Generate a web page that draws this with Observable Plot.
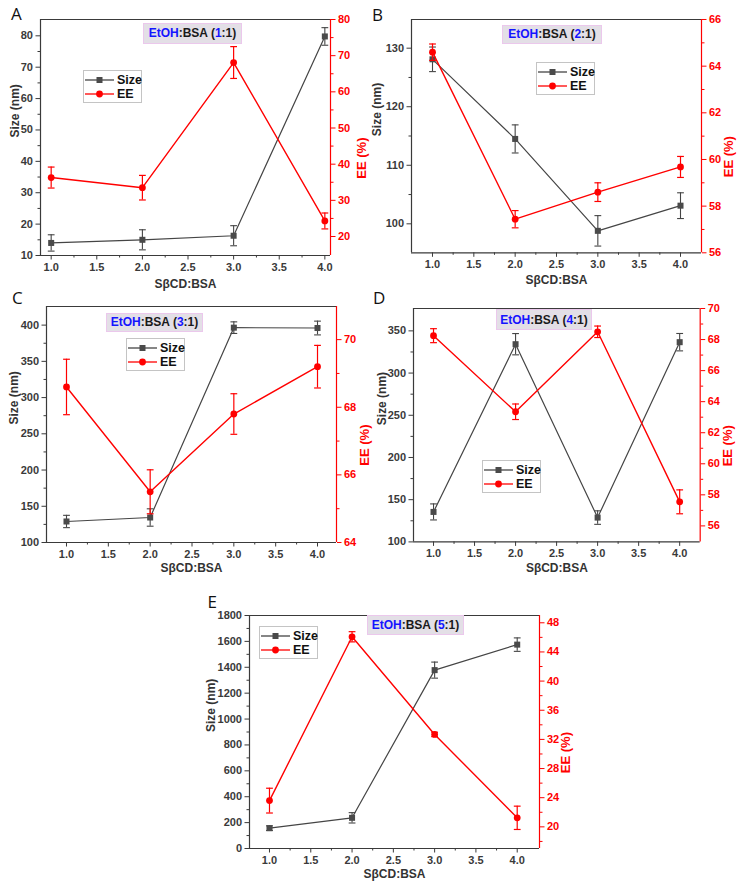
<!DOCTYPE html>
<html>
<head>
<meta charset="utf-8">
<script src="https://cdn.jsdelivr.net/npm/d3@7"></script>
<script src="https://cdn.jsdelivr.net/npm/@observablehq/plot@0.6"></script>
<style>
  html, body { margin: 0; padding: 0; background: #fff; }
  #fig { position: relative; width: 740px; height: 891px; overflow: hidden; background: #fff;
         font-family: "Liberation Sans", Arial, sans-serif; }
  .letter { position: absolute; font-family: "Open Sans", sans-serif; font-size: 17px; line-height: 17px; color: #111; }
  .tag { position: absolute; box-sizing: border-box; background: #e3dfe6; border: 1px solid #ebc8ec;
         font-weight: bold; font-size: 12px; color: #1a1a1a; display: flex; align-items: center;
         justify-content: center; white-space: nowrap; }
  .tag .b { color: #1414ff; }
  .key { position: absolute; box-sizing: border-box; width: 59px; height: 33px; background: #fff;
         border: 1px solid #c4c4c4; padding: 2px 0 0 1px; }
  .key .row { display: flex; align-items: center; height: 14px; font-weight: bold; font-size: 12.5px; color: #111; }
  .key .row svg { display: block; margin-right: 3px; flex: none; }
</style>
</head>
<body>
<div id="fig"></div>
<script>
// SβCD:BSA molar ratio on the x axis
const ratio = [1, 2, 3, 4];
const xTicks = [1.0, 1.5, 2.0, 2.5, 3.0, 3.5, 4.0];
// EtOH:BSA ratio of each panel
const etohRatio = [1, 2, 3, 4, 5];

// A — EtOH:BSA (1:1)
const sizeA = [14.0, 15.0, 16.3, 79.8];
const sizeErrA = [2.6, 3.2, 3.2, 2.8];
const eeA = [36.3, 33.5, 68.1, 24.3];
const eeErrA = [2.9, 3.4, 4.4, 2.2];
const sizeTicksA = [10, 20, 30, 40, 50, 60, 70, 80];
const eeTicksA = [20, 30, 40, 50, 60, 70, 80];

// B — EtOH:BSA (2:1)
const sizeB = [128.1, 114.5, 98.8, 103.1];
const sizeErrB = [2.1, 2.4, 2.6, 2.2];
const eeB = [64.6, 57.44, 58.6, 59.68];
const eeErrB = [0.35, 0.37, 0.4, 0.45];
const sizeTicksB = [100, 110, 120, 130];
const eeTicksB = [56, 58, 60, 62, 64, 66];

// C — EtOH:BSA (3:1)
const sizeC = [129, 134.5, 396.5, 396];
const sizeErrC = [8.5, 12, 8, 9.5];
const eeC = [68.6, 65.5, 67.8, 69.2];
const eeErrC = [0.82, 0.65, 0.6, 0.63];
const sizeTicksC = [100, 150, 200, 250, 300, 350, 400];
const eeTicksC = [64, 66, 68, 70];

// D — EtOH:BSA (4:1)
const sizeD = [135.5, 334.2, 128.8, 336.6];
const sizeErrD = [9.5, 12.6, 8, 10.3];
const eeD = [68.25, 63.35, 68.5, 57.55];
const eeErrD = [0.45, 0.5, 0.37, 0.77];
const sizeTicksD = [100, 150, 200, 250, 300, 350];
const eeTicksD = [56, 58, 60, 62, 64, 66, 68, 70];

// E — EtOH:BSA (5:1)
const sizeE = [157, 237, 1378, 1575];
const sizeErrE = [18, 40, 62, 52];
const eeE = [23.6, 46.08, 32.68, 21.24];
const eeErrE = [1.7, 0.7, 0.3, 1.6];
const sizeTicksE = [0, 200, 400, 600, 800, 1000, 1200, 1400, 1600, 1800];
const eeTicksE = [20, 24, 28, 32, 36, 40, 44, 48];

const AXIS = "#3a3a3a";
const GREY = "#454545";
const RED = "#ff0000";
const FONT = "'Liberation Sans', Arial, sans-serif";
const plain = d => String(d);

// layout of each panel: plot frame [left, top, right, bottom], scale domains and boxes
const panels = [
  {letter: "A", etoh: etohRatio[0], frame: [40, 19, 330, 255], xDomain: [0.883, 4.062],
   size: sizeA, sizeErr: sizeErrA, sizeDomain: [10, 85.2], sizeTicks: sizeTicksA,
   ee: eeA, eeErr: eeErrA, eeDomain: [14.75, 80], eeTicks: eeTicksA,
   tag: [143, 23, 99, 20.5], key: [83, 70], letterPos: [11, 5.3], leftGap: 25, rightGap: 31, bottomGap: 32},
  {letter: "B", etoh: etohRatio[1], frame: [411, 19, 701, 252.3], xDomain: [0.746, 4.254],
   size: sizeB, sizeErr: sizeErrB, sizeDomain: [95.05, 134.9], sizeTicks: sizeTicksB,
   ee: eeB, eeErr: eeErrB, eeDomain: [56, 66], eeTicks: eeTicksB,
   tag: [502, 25, 100, 18.5], key: [536, 62], letterPos: [372, 6.3], leftGap: 34, rightGap: 27, bottomGap: 31},
  {letter: "C", etoh: etohRatio[2], frame: [45.7, 305.7, 335.7, 541.7], xDomain: [0.761, 4.227],
   size: sizeC, sizeErr: sizeErrC, sizeDomain: [100, 425.7], sizeTicks: sizeTicksC,
   ee: eeC, eeErr: eeErrC, eeDomain: [64, 70.98], eeTicks: eeTicksC,
   tag: [106, 312.7, 97, 19], key: [126, 338.3], letterPos: [12, 288.7], leftGap: 32, rightGap: 28, bottomGap: 29},
  {letter: "D", etoh: etohRatio[3], frame: [413.3, 308.3, 700, 541.7], xDomain: [0.756, 4.25],
   size: sizeD, sizeErr: sizeErrD, sizeDomain: [100, 376.5], sizeTicks: sizeTicksD,
   ee: eeD, eeErr: eeErrD, eeDomain: [54.97, 70], eeTicks: eeTicksD,
   tag: [496, 309.3, 96, 20.5], key: [482, 460], letterPos: [373, 288.7], leftGap: 31.6, rightGap: 28, bottomGap: 30},
  {letter: "E", etoh: etohRatio[4], frame: [249, 615.3, 539, 848.3], xDomain: [0.758, 4.27],
   size: sizeE, sizeErr: sizeErrE, sizeDomain: [0, 1800], sizeTicks: sizeTicksE,
   ee: eeE, eeErr: eeErrE, eeDomain: [17.03, 49], eeTicks: eeTicksE,
   tag: [367, 615, 97, 20], key: [259, 626], letterPos: [207.5, 593], leftGap: 38, rightGap: 26, bottomGap: 29.5}
];

// minor ticks halfway between major ticks, kept strictly inside the domain
function minorTicks(major, domain) {
  const step = major[1] - major[0];
  const pad = (domain[1] - domain[0]) * 0.006;
  const out = [];
  for (let v = major[0] - step / 2; v < domain[1]; v += step) {
    if (v > domain[0] + pad && v < domain[1] - pad) out.push(+v.toFixed(6));
  }
  return out;
}

// horizontal error-bar cap
const cap = {draw(ctx) { ctx.moveTo(-3.4, 0); ctx.lineTo(3.4, 0); }};

const M = {l: 50, r: 50, t: 10, b: 45};
const fig = document.getElementById("fig");

function place(svg, p) {
  svg.style.position = "absolute";
  svg.style.left = (p.frame[0] - M.l) + "px";
  svg.style.top = (p.frame[1] - M.t) + "px";
  fig.appendChild(svg);
}

function common(p) {
  return {
    width: p.frame[2] - p.frame[0] + M.l + M.r,
    height: p.frame[3] - p.frame[1] + M.t + M.b,
    marginLeft: M.l, marginRight: M.r, marginTop: M.t, marginBottom: M.b,
    style: {background: "transparent", fontFamily: FONT, overflow: "visible"},
    x: {domain: p.xDomain, axis: null, label: null}
  };
}

function sizePlot(p) {
  const data = ratio.map((x, i) => ({x, v: p.size[i], e: p.sizeErr[i]}));
  return Plot.plot({
    ...common(p),
    y: {domain: p.sizeDomain, axis: null, label: null},
    marks: [
      Plot.ruleX([p.xDomain[0]], {stroke: AXIS, strokeWidth: 1.2}),
      Plot.ruleY(p.sizeDomain, {stroke: AXIS, strokeWidth: 1.2}),
      Plot.axisX(xTicks, {tickSize: 4.5, tickPadding: 3, tickFormat: d3.format(".1f"), label: null,
        fontSize: 11, fontWeight: "bold", color: AXIS}),
      Plot.axisX(minorTicks(xTicks, p.xDomain), {tickSize: 2.5, label: null, stroke: AXIS, fill: "none"}),
      Plot.axisY(p.sizeTicks, {anchor: "left", tickSize: 4.5, tickPadding: 3, tickFormat: plain, label: null,
        fontSize: 11, fontWeight: "bold", color: AXIS}),
      Plot.axisY(minorTicks(p.sizeTicks, p.sizeDomain), {anchor: "left", tickSize: 2.5, label: null, stroke: AXIS, fill: "none"}),
      Plot.text(["Size (nm)"], {text: d => d, frameAnchor: "left", rotate: -90, dx: -p.leftGap,
        fontSize: 12, fontWeight: "bold", fill: "#333"}),
      Plot.text(["SβCD:BSA"], {text: d => d, frameAnchor: "bottom", dy: p.bottomGap,
        fontSize: 12, fontWeight: "bold", fill: "#333"}),
      Plot.line(data, {x: "x", y: "v", stroke: GREY, strokeWidth: 1.2}),
      Plot.ruleX(data, {x: "x", y1: d => d.v - d.e, y2: d => d.v + d.e, stroke: GREY, strokeWidth: 1.1}),
      Plot.dot(data, {x: "x", y: d => d.v + d.e, symbol: cap, stroke: GREY, fill: "none", strokeWidth: 1.1}),
      Plot.dot(data, {x: "x", y: d => d.v - d.e, symbol: cap, stroke: GREY, fill: "none", strokeWidth: 1.1}),
      Plot.dot(data, {x: "x", y: "v", symbol: "square", r: 3.4, fill: "#4a4a4a", stroke: "none"})
    ]
  });
}

function eePlot(p) {
  const data = ratio.map((x, i) => ({x, v: p.ee[i], e: p.eeErr[i]}));
  return Plot.plot({
    ...common(p),
    y: {domain: p.eeDomain, axis: null, label: null},
    marks: [
      Plot.ruleX([p.xDomain[1]], {stroke: RED, strokeWidth: 1.2}),
      Plot.axisY(p.eeTicks, {anchor: "right", tickSize: 4.5, tickPadding: 3, tickFormat: plain, label: null,
        fontSize: 11, fontWeight: "bold", color: RED}),
      Plot.axisY(minorTicks(p.eeTicks, p.eeDomain), {anchor: "right", tickSize: 2.5, label: null, stroke: RED, fill: "none"}),
      Plot.text(["EE (%)"], {text: d => d, frameAnchor: "right", rotate: -90, dx: p.rightGap,
        fontSize: 13, fontWeight: "bold", fill: RED}),
      Plot.line(data, {x: "x", y: "v", stroke: RED, strokeWidth: 1.4}),
      Plot.ruleX(data, {x: "x", y1: d => d.v - d.e, y2: d => d.v + d.e, stroke: RED, strokeWidth: 1.2}),
      Plot.dot(data, {x: "x", y: d => d.v + d.e, symbol: cap, stroke: RED, fill: "none", strokeWidth: 1.2}),
      Plot.dot(data, {x: "x", y: d => d.v - d.e, symbol: cap, stroke: RED, fill: "none", strokeWidth: 1.2}),
      Plot.dot(data, {x: "x", y: "v", symbol: "circle", r: 3.4, fill: RED, stroke: "none"})
    ]
  });
}

function swatch(color, shape) {
  const marker = shape === "square"
    ? `<rect x="11.5" y="2" width="6" height="6" fill="#4a4a4a"/>`
    : `<circle cx="14.5" cy="5" r="3.4" fill="${color}"/>`;
  return `<svg width="29" height="10"><line x1="0" y1="5" x2="29" y2="5" stroke="${color}" stroke-width="1.3"/>${marker}</svg>`;
}

function addHtml(p) {
  const letter = document.createElement("div");
  letter.className = "letter";
  letter.style.left = p.letterPos[0] + "px";
  letter.style.top = p.letterPos[1] + "px";
  letter.textContent = p.letter;
  fig.appendChild(letter);

  const tag = document.createElement("div");
  tag.className = "tag";
  Object.assign(tag.style, {left: p.tag[0] + "px", top: p.tag[1] + "px", width: p.tag[2] + "px", height: p.tag[3] + "px"});
  tag.innerHTML = `<span class="b">EtOH</span>:BSA (<span class="b">${p.etoh}</span>:1)`;
  fig.appendChild(tag);

  const key = document.createElement("div");
  key.className = "key";
  key.style.left = p.key[0] + "px";
  key.style.top = p.key[1] + "px";
  key.innerHTML = `<div class="row">${swatch(GREY, "square")}<span>Size</span></div>` +
                  `<div class="row">${swatch(RED, "circle")}<span>EE</span></div>`;
  fig.appendChild(key);
}

for (const p of panels) {
  place(sizePlot(p), p);
  place(eePlot(p), p);
  addHtml(p);
}
</script>
</body>
</html>
